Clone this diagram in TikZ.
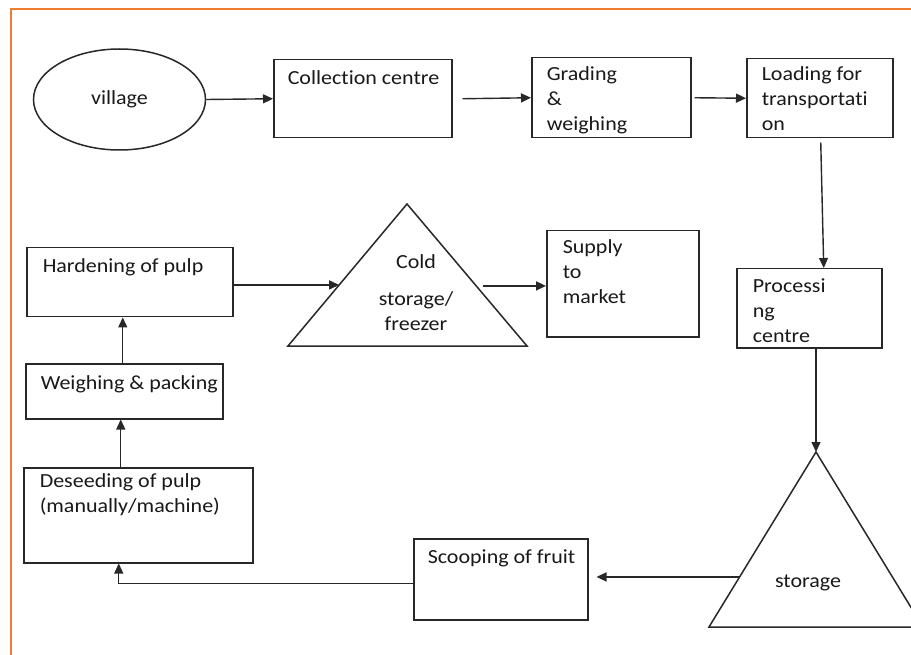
\documentclass[tikz,border=0pt]{standalone}
\usepackage{fontspec}
\setmainfont{Carlito}[FakeStretch=1.1, Ligatures=NoCommon]
\usetikzlibrary{shapes.geometric,arrows.meta,calc}
\definecolor{borderorange}{RGB}{237,125,49}
\definecolor{linegray}{RGB}{40,40,40}
\begin{document}
\begin{tikzpicture}[x=1pt,y=-1pt,
  line width=1.5pt, draw=linegray, text=black!90,
  box/.style={draw=linegray, rectangle, anchor=north west, inner sep=0pt},
  txt/.style={inner sep=0pt, anchor=north west, align=left, font=\fontsize{20}{25}\selectfont, execute at begin node=\rule{0pt}{17pt}},
  ctxt/.style={txt, anchor=north, align=center},
  arr/.style={draw=linegray, -{Triangle[length=10pt,width=9pt]}, line width=1.4pt},
  tri/.style={draw=linegray, line width=1.5pt, line join=miter}
]
\useasboundingbox (0,0) rectangle (911,655);
\clip (0,0) rectangle (911,655);
\fill[white] (0,0) rectangle (911,655);
\draw[borderorange, line width=2pt] (11,9) rectangle (935,690);

% top row
\node[draw=linegray, ellipse, minimum width=172pt, minimum height=101pt, inner sep=0pt,
      font=\fontsize{20}{25}\selectfont] (village) at (119.5,99.5) {village};
\node[box, minimum width=178pt, minimum height=78pt] (coll) at (273,59) {};
\node[txt] (tcoll) at (287,67) {Collection centre};
\node[box, minimum width=159pt, minimum height=80pt] (grad) at (531,57) {};
\node[txt] (tgrad) at (546,66) {Grading\\ \&\\ weighing};
\node[box, minimum width=146pt, minimum height=79pt] (load) at (746,58) {};
\node[txt] (tload) at (761,66) {Loading for\\ transportati\\ on};

% right column
\node[box, minimum width=145pt, minimum height=79pt] (proc) at (736,268) {};
\node[txt] (tproc) at (752,278) {Processi\\ ng\\ centre};
\coordinate (sa) at (816,452);
\coordinate (sl) at (709,627);
\coordinate (sr) at (923,627);
\draw[tri] (sa) -- (sl) -- (sr) -- cycle;
\node[inner sep=0pt, anchor=base, font=\fontsize{20}{25}\selectfont] (tstor) at (808,587) {storage};

% middle row
\node[box, minimum width=206pt, minimum height=69pt] (hard) at (26,247) {};
\node[txt] (thard) at (42,255) {Hardening of pulp};
\coordinate (ca) at (407,204);
\coordinate (cl) at (288,346);
\coordinate (cr) at (527,346);
\draw[tri] (ca) -- (cl) -- (cr) -- cycle;
\node[ctxt] (tcold) at (416,254) {Cold\\[12pt] storage/\\ freezer};
\node[box, minimum width=152pt, minimum height=106pt] (supply) at (546,230) {};
\node[txt] (tsup) at (562,239) {Supply\\ to\\ market};

% left column & bottom
\node[box, minimum width=197pt, minimum height=55pt] (weigh) at (25,363) {};
\node[txt] (tweigh) at (40,372) {Weighing \& packing};
\node[box, minimum width=229pt, minimum height=95pt] (deseed) at (23,467) {};
\node[txt] (tdes) at (39,473) {Deseeding of pulp\\ (manually/machine)};
\node[box, minimum width=174pt, minimum height=81pt] (scoop) at (413,538) {};
\node[txt] (tscoop) at (427,546) {Scooping of fruit};

% connectors
\draw[arr] (village.east) -- (coll.west);
\draw[arr] ([xshift=10pt]coll.east) -- (grad.west);
\draw[arr] ([xshift=3pt]grad.east) -- (load.west);
\draw[arr] ([shift={(1,4)}]load.south) -- ([xshift=14.5pt]proc.north);
\draw[arr] (sa |- proc.south) -- (sa);
\coordinate (s1) at ($(sa)!0.714!(sl)$);
\draw[arr] (s1) -- ([xshift=8pt]scoop.east |- s1);
\draw[arr] ([shift={(0,4.5)}]scoop.west) -| ([xshift=-19.5pt]deseed.south);
\draw[arr] ([xshift=-17.5pt]deseed.north) -- ([xshift=-17.5pt]deseed.north |- weigh.south);
\draw[arr] ([xshift=-1.5pt]weigh.north) -- ([xshift=-1.5pt]weigh.north |- hard.south);
\coordinate (c1) at ($(ca)!0.57!(cl)$);
\draw[arr] (hard.east |- c1) -- (c1);
\coordinate (c2) at ($(ca)!0.577!(cr)+(7,0)$);
\draw[arr] (c2) -- (c2 -| supply.west);
\end{tikzpicture}
\end{document}
